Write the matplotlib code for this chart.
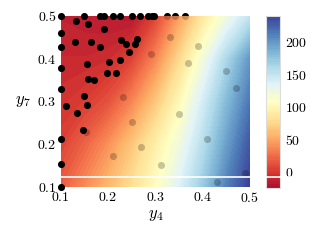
import numpy as np
import matplotlib
matplotlib.use("Agg")
import matplotlib.pyplot as plt
from matplotlib.lines import Line2D
from matplotlib.colors import ListedColormap

plt.rcParams['font.family'] = 'serif'
plt.rcParams['font.serif'] = ['cmr10', 'DejaVu Serif']
plt.rcParams['mathtext.fontset'] = 'cm'
plt.rcParams['axes.formatter.use_mathtext'] = True

# field (y4 across, y7 down the rows)
grid_y4 = [0.1, 0.15, 0.2, 0.25, 0.3, 0.35, 0.4, 0.45, 0.5]
grid_y7 = [0.1, 0.2, 0.3, 0.4, 0.5]
field = [
    [18, 38, 58, 80, 105, 135, 170, 210, 240],
    [5, 20, 40, 65, 92, 120, 155, 195, 230],
    [-3, 2, 12, 35, 65, 100, 140, 180, 215],
    [-8, -8, -6, 5, 35, 75, 118, 160, 200],
    [-12, -14, -16, -18, 5, 45, 85, 120, 150],
]

# samples drawn on top (black)
top_y4 = [0.1, 0.15, 0.183, 0.192, 0.21, 0.225, 0.251, 0.268, 0.285, 0.292, 0.298,
          0.132, 0.158, 0.1, 0.192, 0.1, 0.13, 0.165, 0.183, 0.227, 0.239, 0.261,
          0.257, 0.245, 0.155, 0.203, 0.225, 0.1, 0.197, 0.217, 0.158, 0.171,
          0.1, 0.149, 0.111, 0.155, 0.135, 0.148, 0.1, 0.1, 0.1]
top_y7 = [0.5, 0.5, 0.5, 0.5, 0.5, 0.5, 0.5, 0.5, 0.5, 0.5, 0.5,
          0.489, 0.481, 0.46, 0.469, 0.427, 0.438, 0.438, 0.428, 0.444, 0.435, 0.446,
          0.435, 0.415, 0.388, 0.393, 0.396, 0.378, 0.366, 0.366, 0.352, 0.351,
          0.33, 0.313, 0.29, 0.292, 0.274, 0.234, 0.212, 0.154, 0.1]

# samples under the field (faded)
low_y4 = [0.324, 0.342, 0.363, 0.331, 0.291, 0.39, 0.37, 0.45, 0.47, 0.231,
          0.35, 0.251, 0.154, 0.41, 0.27, 0.211, 0.311, 0.489, 0.43]
low_y7 = [0.5, 0.5, 0.5, 0.45, 0.411, 0.43, 0.391, 0.37, 0.331, 0.31,
          0.271, 0.251, 0.229, 0.212, 0.193, 0.173, 0.152, 0.133, 0.111]

cbar_ticks = [0, 50, 100, 150, 200]

base = plt.get_cmap('RdYlBu')(np.linspace(0, 1, 256))
base[:, :3] = base[:, :3] * 0.95 + 0.05
cmap = ListedColormap(base)

fig = plt.figure(figsize=(3.18, 2.52), dpi=100)
ax = fig.add_axes([0.191, 0.258, 0.595, 0.679])
cax = fig.add_axes([0.836, 0.254, 0.044, 0.683])

# black halves that stick out above the frame
ax.scatter(low_y4, low_y7, s=26, color='black', zorder=1, clip_on=False, linewidths=0)
cs = ax.contourf(grid_y4, grid_y7, field, levels=np.linspace(-25, 240, 80),
                 cmap=cmap, zorder=2)
ax.scatter(low_y4, low_y7, s=26, color='black', alpha=0.22, zorder=3, linewidths=0)
ax.scatter(top_y4, top_y7, s=26, color='black', zorder=5, clip_on=False, linewidths=0)

ax.set_xlim(0.1, 0.5)
ax.set_ylim(0.1, 0.5)
ax.set_xticks([0.1, 0.2, 0.3, 0.4, 0.5])
ax.set_yticks([0.1, 0.2, 0.3, 0.4, 0.5])
ax.tick_params(length=0, labelsize=10, pad=3)
for s in ax.spines.values():
    s.set_visible(False)
ax.set_xlabel(r'$y_4$', fontsize=12, labelpad=2)
ax.set_ylabel(r'$y_7$', fontsize=12, rotation=0, labelpad=10, va='center')

cb = fig.colorbar(cs, cax=cax, ticks=cbar_ticks)
cb.ax.tick_params(length=0, labelsize=10, pad=4)
cb.outline.set_edgecolor('#dddddd')

fig.add_artist(Line2D([0, 1], [0.296, 0.296], transform=fig.transFigure,
                      color='white', lw=1.2, zorder=10))

fig.savefig('out.png', dpi=100)
